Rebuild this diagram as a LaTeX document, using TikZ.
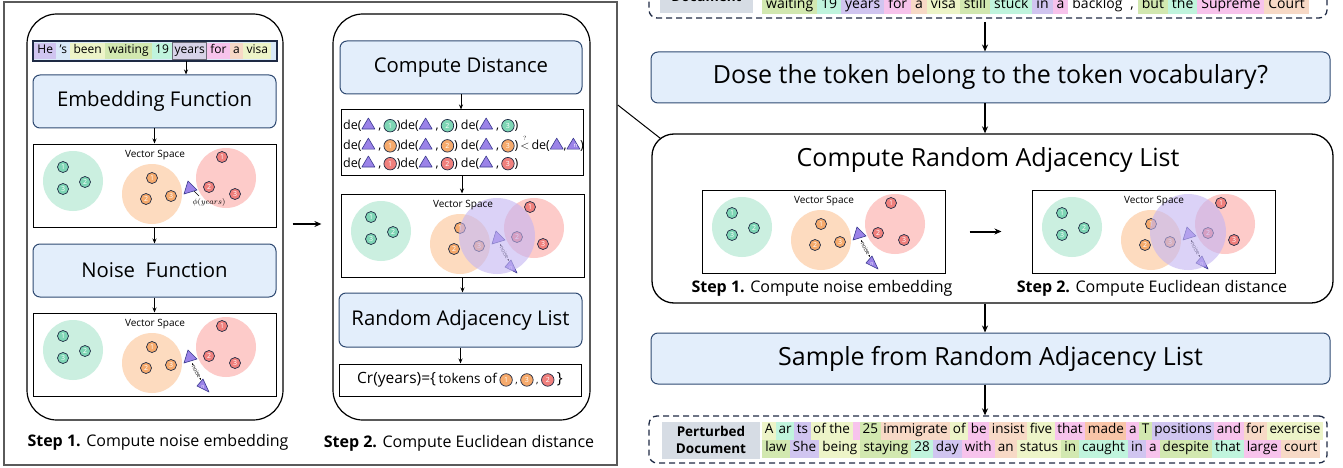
\documentclass[tikz,border=0pt]{standalone}
\usepackage{amsmath}
\usepackage{fontspec}
\setmainfont{Open Sans}
\usepackage{tikz}
\usetikzlibrary{arrows.meta}

\definecolor{bfill}{HTML}{E3EEFB}
\definecolor{bdr}{HTML}{2F4A72}
\definecolor{dk}{HTML}{1E2A44}
\definecolor{gbig}{HTML}{CBEFE0}
\definecolor{obig}{HTML}{FDDBBF}
\definecolor{rbig}{HTML}{FDCBC9}
\definecolor{gsm}{HTML}{7ED6B5}
\definecolor{osm}{HTML}{F6AA6C}
\definecolor{rsm}{HTML}{F0807D}
\definecolor{trifill}{HTML}{9B83E8}
\definecolor{tridraw}{HTML}{3A3A8E}
\definecolor{purc}{HTML}{C3B5F3}
\definecolor{tpu}{HTML}{D0C5F0}
\definecolor{tbl}{HTML}{D9E9F8}
\definecolor{tye}{HTML}{EDF4C8}
\definecolor{tgr}{HTML}{D2E8B0}
\definecolor{tmt}{HTML}{C0F4DD}
\definecolor{tpk}{HTML}{F7C3EC}
\definecolor{tpe}{HTML}{F7D9C6}
\definecolor{tor}{HTML}{F8C5A8}
\definecolor{tyr}{HTML}{D8D3E8}
\definecolor{tgy}{HTML}{6B6B78}
\definecolor{glab}{HTML}{D6DCE4}
\definecolor{framec}{HTML}{5A5A5A}

\setlength{\fboxsep}{1.6pt}
\newlength{\tkpad}
\setlength{\tkpad}{1pt}
\newcommand{\tk}[2]{\colorbox{#1}{\hspace{\tkpad}\strut #2\hspace{\tkpad}}}
\newcommand{\tkb}[2]{{\fboxrule=0.8pt\fcolorbox{tgy}{#1}{\strut #2}}}
\newcommand{\tri}{\tikz[baseline=-0.5pt]\filldraw[trif] (0pt,0pt) -- (13pt,0pt) -- (6.5pt,11pt) -- cycle;}
\newcommand{\trin}{\tikz[baseline=-0.5pt]{\filldraw[trif] (0pt,0pt) -- (13pt,0pt) -- (6.5pt,11pt) -- cycle; \node[text=white, inner sep=0pt, font=\fontsize{6}{6}\selectfont] at (6.5pt,3pt) {n};}}
\newcommand{\cn}[2]{\tikz[baseline=-3.8pt]\node[numc=#1, minimum size=12.5pt] {#2};}
\newcommand{\de}[2]{de(\tri\ ,\,\cn{#1}{#2})}

\tikzset{
	fnbox/.style={draw=bdr, fill=bfill, rounded corners=7pt, line width=1pt, inner sep=0pt},
	vsbox/.style={draw=black, fill=white, line width=1pt, minimum width=243pt, minimum height=83pt, inner sep=0pt},
	panel/.style={draw=black, line width=1.2pt, rounded corners=30pt, inner sep=0pt},
	dashbox/.style={draw=dk, dash pattern=on 6pt off 4pt, line width=1.3pt, rounded corners=8pt, inner sep=0pt},
	graylab/.style={fill=glab, inner sep=0pt, font=\bfseries\fontsize{13.5}{17}\selectfont, align=center},
	numc/.style={circle, draw=dk, fill=#1, text=white, inner sep=0pt, minimum size=11pt, line width=0.7pt, font=\fontsize{7}{7}\selectfont},
	trif/.style={fill=trifill, draw=tridraw, line width=0.6pt, line join=round},
	arr/.style={-{Stealth[length=5pt,width=4pt]}, line width=1pt},
	arrb/.style={-{Stealth[length=7pt,width=6pt]}, line width=2pt},
	vslab/.style={font=\fontsize{10}{12}\selectfont},
	stepcap/.style={font=\fontsize{16}{19}\selectfont},
	big/.style={font=\fontsize{20.3}{24}\selectfont},
	bigger/.style={font=\fontsize{25}{29}\selectfont},
	tokrow/.style={inner sep=0pt, anchor=west},
	derow/.style={anchor=west, inner sep=0pt, font=\fontsize{12.5}{14}\selectfont},
}

\newcommand{\vecspace}[2]{
	\node[vsbox] (#1) at (121.5,41.5) {};
	\fill[gbig] (40,37) circle (30pt);
	\fill[obig] (119,50) circle (30pt);
	\fill[rbig] (193,34) circle (30pt);
	\node[numc=gsm] at (30,23) {1};
	\node[numc=gsm] at (52,38) {2};
	\node[numc=gsm] at (30,45) {3};
	\node[numc=osm] at (119,34) {1};
	\node[numc=osm] at (113,55) {2};
	\node[numc=osm] at (138,52) {3};
	\node[numc=rsm] at (189,13) {1};
	\node[numc=rsm] at (176,43) {2};
	\node[numc=rsm] at (202,50) {3};
	#2
	\node[vslab] at (122,11) {Vector Space};
}
\newcommand{\trione}{\filldraw[trif] (155,37) -- (151,50) -- (164,46) -- cycle;}
\newcommand{\noisy}{
	\trione
	\draw[{Stealth[length=2.5pt]}-{Stealth[length=2.5pt]}, line width=0.4pt] (159,50) -- node[sloped, fill=white, inner sep=0.4pt, font=\fontsize{5.5}{5.5}\selectfont] {noise} (168,67);
	\filldraw[trif] (170,66) -- (164,73) -- (176,79) -- cycle;
	\node[text=white, inner sep=0pt, font=\fontsize{5}{5}\selectfont] at (170,74) {n};
}

\begin{document}
\begin{tikzpicture}[x=1pt,y=-1pt]
	\useasboundingbox (0,0) rectangle (1343,468);
	\clip (0,0) rectangle (1343,468);

	\node[draw=framec, line width=1.6pt, minimum width=613pt, minimum height=463pt] (frame) at (310.5,233.5) {};
	\node[panel, minimum width=256pt, minimum height=406pt] (lp) at (155,217) {};
	\node[panel, minimum width=257pt, minimum height=406pt] (mp) at (461.5,217) {};

	\node[draw=dk, fill=tbl, line width=1.2pt, minimum width=244pt, minimum height=20pt, inner sep=0pt] (strip) at (155,51) {};
	\node[inner sep=0pt, anchor=west, font=\fontsize{12}{13}\selectfont] (toks) at ([xshift=1.5pt]strip.west) {\setlength{\tkpad}{1.7pt}\tk{tpu}{He}\tk{tbl}{'s}\tk{tye}{been}\tk{tgr}{waiting}\tk{tmt}{19}\tkb{tyr}{years}\tk{tpk}{for}\tk{tpe}{a}\tk{tye}{visa}};
	\node[fnbox, big, minimum width=243pt, minimum height=53pt] (emb) at (154.5,101.5) {Embedding Function};
	\begin{scope}[shift={(33,144)}]
		\vecspace{vsa}{\trione \draw[line width=0.5pt] (161,47) -- (166,52); \node[font=\fontsize{8}{8}\selectfont] at (176,58) {$\phi(years)$};}
	\end{scope}
	\node[fnbox, big, minimum width=243pt, minimum height=53pt] (noi) at (154.5,270.5) {Noise\ \ Function};
	\begin{scope}[shift={(33,313)}]
		\vecspace{vsb}{\noisy}
	\end{scope}
	\node[stepcap] (capa) at (158,442) {\textbf{Step 1.} Compute noise embedding};

	\coordinate (yr) at (186,61);
	\draw[arr] (yr) -- (yr |- emb.north);
	\draw[arr] (emb.south) -- (emb.south |- vsa.north);
	\draw[arr] (vsa.south) -- (vsa.south |- noi.north);
	\draw[arr] (noi.south) -- (noi.south |- vsb.north);

	\node[fnbox, big, minimum width=242pt, minimum height=53pt] (cd) at (461,67.5) {Compute Distance};
	\node[draw=black, line width=1pt, minimum width=242pt, minimum height=65pt, inner sep=0pt] (dist) at (462,142.5) {};
	\node[derow] (rowa) at (343,125) {\de{gsm}{1}\de{gsm}{2} \de{gsm}{3}};
	\node[derow] (rowb) at (343,144) {\de{osm}{1}\de{osm}{2} \de{osm}{3}\,$\overset{\scriptscriptstyle ?}{<}$\,de(\tri,\trin)};
	\node[derow] (rowc) at (343,163) {\de{rsm}{1}\de{rsm}{2} \de{rsm}{3}};
	\begin{scope}[shift={(341,194)}]
		\vecspace{vsc}{\noisy \fill[purc, opacity=0.6] (156,42) circle (38pt);}
	\end{scope}
	\node[fnbox, big, minimum width=243pt, minimum height=54pt] (ral) at (460.5,320) {Random Adjacency List};
	\node[draw=black, line width=1pt, minimum width=242pt, minimum height=32pt, inner sep=0pt] (crb) at (460,380) {{\fontsize{15.5}{17}\selectfont Cr(years)=\{} {\fontsize{13.5}{15}\selectfont tokens of} \cn{osm}{1}\ ,\ \cn{osm}{3}\ ,\ \cn{rsm}{2}\ {\fontsize{15.5}{17}\selectfont\}}};
	\node[stepcap] (capb) at (459,443) {\textbf{Step 2.} Compute Euclidean distance};

	\draw[arr] (cd.south) -- (cd.south |- dist.north);
	\draw[arr] (dist.south) -- (dist.south |- vsc.north);
	\draw[arr] (vsc.south) -- (vsc.south |- ral.north);
	\draw[arr] (ral.south) -- (ral.south |- crb.north);
	\draw[arrb, line width=2.4pt] ([shift={(9pt,-7pt)}]lp.east) -- ([shift={(-11pt,-7pt)}]mp.west);

	\node[dashbox, minimum width=678pt, minimum height=60pt] (doc) at (988,-12) {};
	\node[graylab, minimum width=93pt, minimum height=32pt, anchor=south] (docl) at (706.5,13) {Document};
	\node[tokrow, font=\fontsize{14}{14.5}\selectfont] (docr) at (762,5) {\setlength{\tkpad}{2.4pt}\tk{tgr}{waiting}\tk{tmt}{19}\tk{tpu}{years}\tk{tpk}{for}\tk{tpe}{a}\tk{tye}{visa}\tk{tgr}{still}\tk{tmt}{stuck}\tk{tpu}{in}\tk{tpk}{a}\tk{white}{backlog}\tk{white}{,}\tk{tgr}{but}\tk{tmt}{the}\tk{tpk}{Supreme}\tk{tpe}{Court}};
	\node[fnbox, bigger, minimum width=679pt, minimum height=51pt] (dose) at (990.5,77.5) {Dose the token belong to the token vocabulary?};
	\node[draw=black, line width=1.3pt, rounded corners=22pt, minimum width=681pt, minimum height=169pt] (cral) at (992.5,218.5) {};
	\node[bigger] (cralt) at (988,160) {Compute Random Adjacency List};
	\begin{scope}[shift={(702,190)}]
		\vecspace{vsd}{\noisy}
	\end{scope}
	\begin{scope}[shift={(1032,190)}]
		\vecspace{vse}{\noisy \fill[purc, opacity=0.6] (156,42) circle (38pt);}
	\end{scope}
	\draw[arrb] ([xshift=24pt]vsd.east) -- ([xshift=-30pt]vse.west);
	\node[stepcap] (capc) at (822,288) {\textbf{Step 1.} Compute noise embedding};
	\node[stepcap] (capd) at (1152,288) {\textbf{Step 2.} Compute Euclidean distance};
	\node[fnbox, bigger, minimum width=679pt, minimum height=51pt] (samp) at (990.5,358.5) {Sample from Random Adjacency List};
	\node[dashbox, minimum width=678pt, minimum height=47pt] (pert) at (988,439.5) {};
	\node[graylab, minimum width=98pt, minimum height=37pt] (pertl) at (711,440) {Perturbed\\Document};
	\node[tokrow, font=\fontsize{13.5}{14.5}\selectfont] (perta) at (762,431) {\setlength{\tkpad}{1pt}\tk{tye}{A}\tk{tmt}{ar}\tk{tpu}{ts}\tk{tye}{of the}\tk{tpk}{\,}\tk{tgr}{25}\tk{tpe}{immigrate}\tk{tye}{of}\tk{tpk}{be}\tk{tpe}{insist}\tk{tye}{five}\tk{tpk}{that}\tk{tor}{made}\tk{tpk}{a}\tk{tgr}{T}\tk{tpu}{positions}\tk{tpk}{and}\tk{tpe}{for}\tk{tye}{exercise}};
	\node[tokrow, font=\fontsize{13.5}{14.5}\selectfont] (pertb) at (762,449) {\setlength{\tkpad}{1.5pt}\tk{tgr}{law}\tk{tpu}{She}\tk{tye}{being}\tk{tgr}{staying}\tk{tmt}{28}\tk{tpu}{day}\tk{tpk}{with}\tk{tpe}{an}\tk{tye}{status}\tk{tgr}{in}\tk{tmt}{caught}\tk{tpu}{in}\tk{tpk}{a}\tk{tgr}{despite}\tk{tmt}{that}\tk{tpk}{large}\tk{tpe}{court}};

	\coordinate (ax) at (985,22);
	\draw[arrb] (ax) -- (ax |- dose.north);
	\draw[arrb] (ax |- dose.south) -- (ax |- cral.north);
	\draw[arrb] (ax |- cral.south) -- (ax |- samp.north);
	\draw[arrb] (ax |- samp.south) -- (ax |- pert.north);
	\draw[line width=1pt] ([yshift=128.5pt]frame.east) -- ([shift={(9pt,-5pt)}]cral.north west);
\end{tikzpicture}
\end{document}
